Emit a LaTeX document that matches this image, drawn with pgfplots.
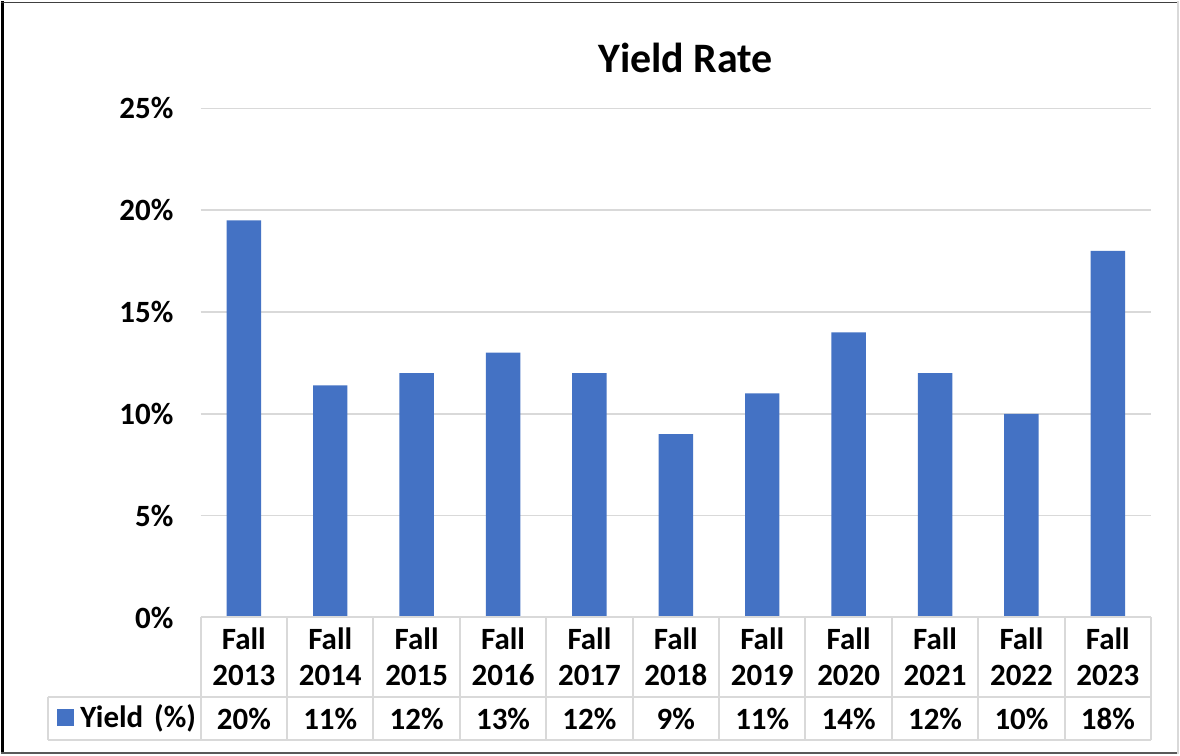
\documentclass[border=0pt]{standalone}
\usepackage{pgfplots}
\pgfplotsset{compat=1.18}
\usepackage{pgfplotstable}
\usepackage{fontspec}
\setmainfont{Carlito}

\definecolor{barblue}{HTML}{4472C4}
\definecolor{gridgray}{HTML}{D9D9D9}

% x = position, y = yield (%), r = value shown in the data table
\pgfplotstableread{
x y r
0 19.5 20
1 11.4 11
2 12.0 12
3 13.0 13
4 12.0 12
5 9.0 9
6 11.0 11
7 14.0 14
8 12.0 12
9 10.0 10
10 18.0 18
}\yielddata

\begin{document}
\begin{tikzpicture}
\fill[white] (0,0) rectangle (590pt,377pt);
% pixel coordinates of the 1180x754 frame
\begin{scope}[x=0.5pt,y=-0.5pt,shift={(0,377pt)}]
  % data table lines
  \draw[gridgray,line width=1pt] (47,697) -- (1152,697);
  \draw[gridgray,line width=1pt] (47,740) -- (1152,740);
  \draw[gridgray,line width=1pt] (47,697) -- (47,740);
  \foreach \k in {0,...,11}
    \draw[gridgray,line width=1pt] ({200+\k*86.545},617) -- ({200+\k*86.545},740);
  % legend key in the table
  \fill[barblue] (56,709) rectangle (73,726);
  \node[anchor=west,inner sep=0pt,font=\fontsize{15.5}{18}\selectfont\bfseries] at (79,718) {Yield\hspace{0.35em}(\%)};
  % title
  \node[font=\fontsize{21}{25}\selectfont\bfseries] at (686,57) {Yield Rate};
  % outer frame
  \draw[black,line width=1.5pt] (1.5,0) -- (1.5,754);
  \draw[black!75,line width=0.75pt] (0,1) -- (1180,1);
  \draw[black!65,line width=1pt] (0,752.5) -- (1180,752.5);
  \draw[gridgray,line width=0.75pt] (1179,0) -- (1179,754);
\end{scope}
\begin{axis}[
  at={(100pt,68.5pt)}, anchor=south west,
  scale only axis, width=476pt, height=255pt,
  xmin=-0.5, xmax=10.5, ymin=0, ymax=25,
  ytick={0,5,...,25},
  yticklabel={\pgfmathprintnumber{\tick}\%},
  xtick={0,...,10},
  xticklabels={{Fall\\2013},{Fall\\2014},{Fall\\2015},{Fall\\2016},{Fall\\2017},{Fall\\2018},{Fall\\2019},{Fall\\2020},{Fall\\2021},{Fall\\2022},{Fall\\2023}},
  xticklabel style={anchor=north,yshift=-5pt,inner sep=0pt,align=center,font=\fontsize{15.5}{18}\selectfont\bfseries},
  yticklabel style={anchor=east,xshift=-13.5pt,inner sep=0pt,font=\fontsize{15.5}{18}\selectfont\bfseries},
  /pgf/number format/assume math mode=true,
  major tick length=0pt,
  axis line style={draw=none},
  ymajorgrids, grid style={gridgray,line width=0.75pt},
  clip=false,
]
\addplot[ybar, bar width=17.25pt, fill=barblue, draw=none] table[x=x,y=y] {\yielddata};
% values row of the data table
\addplot[draw=none, nodes near coords={\pgfmathprintnumber[fixed,precision=0]{\pgfplotspointmeta}\%},
  point meta=\thisrow{r},
  every node near coord/.append style={anchor=center,inner sep=0pt,font=\fontsize{15.5}{18}\selectfont\bfseries,
    /pgf/number format/assume math mode=true}]
  table[x=x,y expr=-4.98] {\yielddata};
\draw[gridgray,line width=1pt] (axis cs:-0.5,0) -- (axis cs:10.5,0);
\end{axis}
\end{tikzpicture}
\end{document}
